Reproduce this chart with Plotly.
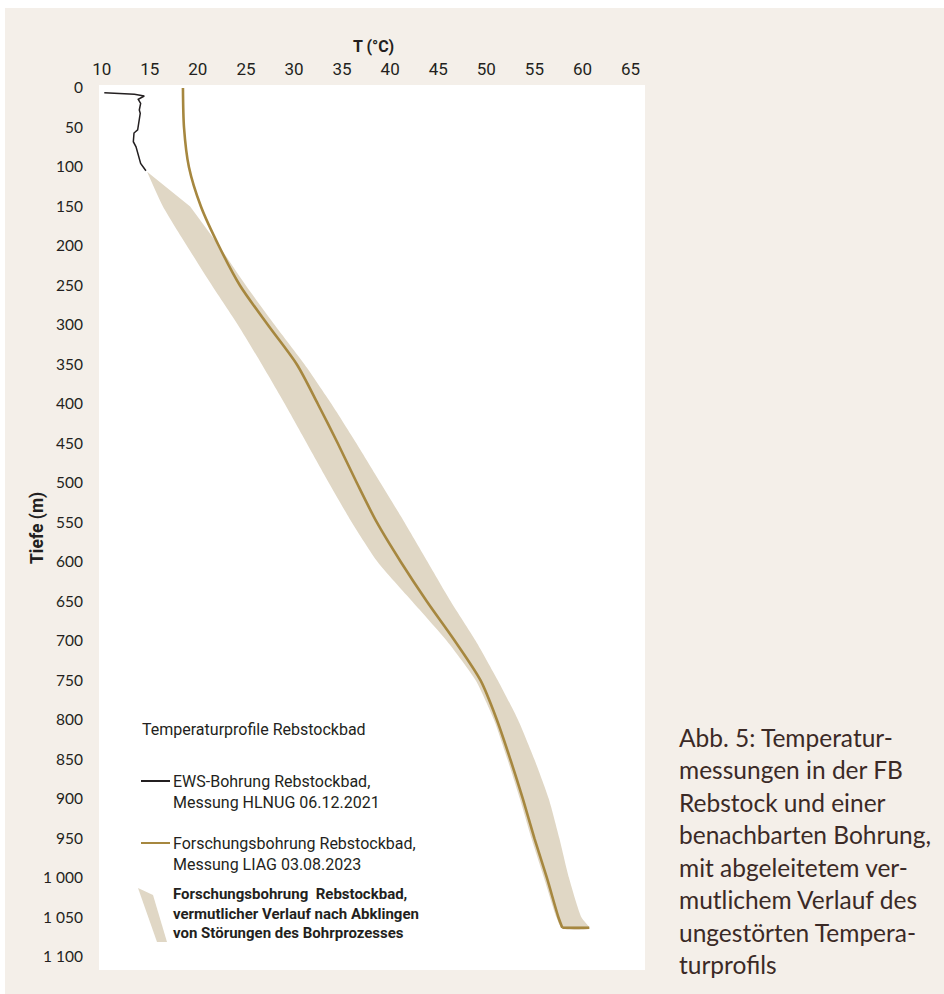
import plotly.graph_objects as go

# ---- data -------------------------------------------------------------
# EWS-Bohrung Rebstockbad, Messung HLNUG 06.12.2021
ews_temp = [10.27, 11.9, 13.4, 14.43, 13.80, 14.05, 13.91, 14.01, 13.88, 13.74,
            13.36, 13.29, 13.57, 13.80, 14.05, 14.60]
ews_depth = [5.9, 6.7, 8.0, 10.1, 14.3, 19.4, 27.9, 32.0, 40.5, 53.0,
             57.0, 68.0, 74.5, 85.0, 95.5, 104.8]

# Forschungsbohrung Rebstockbad, Messung LIAG 03.08.2023
fb_temp = [18.45, 18.56, 19.07, 20.32, 22.19, 24.38, 27.29, 30.30, 32.48, 34.56,
           36.54, 38.62, 41.11, 43.82, 46.73, 49.4, 51.1, 52.5, 53.8, 55.0,
           56.3, 57.5, 57.9, 60.7]
fb_depth = [0, 50, 100, 150, 200, 250, 300, 350, 400, 450,
            500, 550, 600, 650, 700, 750, 800, 850, 900, 950,
            1000, 1050, 1063, 1063]

# estimated undisturbed profile (band): left edge top->bottom, right edge bottom->top
band_left_temp = [14.72, 16.37, 18.87, 21.47, 24.17, 26.66, 29.05, 31.34, 33.63,
                  36.02, 38.7, 42.3, 45.9, 48.9, 50.8, 52.2, 53.5, 54.7, 56.0,
                  57.3, 57.9]
band_left_depth = [106, 150, 200, 250, 300, 350, 400, 450, 500,
                   550, 600, 650, 700, 750, 800, 850, 900, 950, 1000,
                   1050, 1064]
band_right_temp = [60.76, 59.9, 58.6, 57.6, 56.5, 55.0, 53.3, 51.2, 48.9, 46.3,
                   43.9, 41.5, 39.0, 36.5, 33.9, 31.1, 28.0, 25.0, 22.2, 19.2]
band_right_depth = [1064, 1050, 1000, 950, 900, 850, 800, 750, 700, 650,
                    600, 550, 500, 450, 400, 350, 300, 250, 200, 150]

x_ticks = list(range(10, 70, 5))
y_ticks = list(range(0, 1150, 50))
y_ticktext = [f"{v:,}".replace(",", " ") for v in y_ticks]

caption_lines = ["Abb. 5: Temperatur-", "messungen in der FB", "Rebstock und einer",
                 "benachbarten Bohrung,", "mit abgeleitetem ver-", "mutlichem Verlauf des",
                 "ungestörten Tempera-", "turprofils"]

# ---- style --------------------------------------------------------------
BG = "#F4EFE9"
GOLD = "#A6873F"
BAND = "#E0D7C5"
INK = "#231F20"
CAPTION_INK = "#3B2A26"
COND = "Roboto, sans-serif"
ROUND = "Lato, Noto Sans, sans-serif"

W_FIG, H_FIG = 944, 994
L, T, PW, PH = 99, 85, 546, 885


def px(x):
    return (x - L) / PW


def py(y):
    return (T + PH - y) / PH


fig = go.Figure()

fig.add_trace(go.Scatter(
    x=band_left_temp + band_right_temp,
    y=band_left_depth + band_right_depth,
    fill="toself", fillcolor=BAND, mode="lines",
    line=dict(width=0, shape="spline", smoothing=0.6),
    hoverinfo="skip", showlegend=False))

fig.add_trace(go.Scatter(
    x=ews_temp, y=ews_depth, mode="lines",
    line=dict(color=INK, width=1.5), showlegend=False))

# smooth profile down to the bottom of the hole, then the straight closing segment
fig.add_trace(go.Scatter(
    x=fb_temp[:-1], y=fb_depth[:-1], mode="lines",
    line=dict(color=GOLD, width=2.6, shape="spline", smoothing=0.8), showlegend=False))
fig.add_trace(go.Scatter(
    x=fb_temp[-2:], y=fb_depth[-2:], mode="lines",
    line=dict(color=GOLD, width=2.6), showlegend=False))

shapes = [
    # white page edge above and left of the beige panel
    dict(type="rect", xref="paper", yref="paper", x0=px(0), x1=px(W_FIG), y0=py(8), y1=py(0),
         fillcolor="white", line=dict(width=0), layer="below"),
    dict(type="rect", xref="paper", yref="paper", x0=px(0), x1=px(5), y0=py(H_FIG), y1=py(0),
         fillcolor="white", line=dict(width=0), layer="below"),
    # legend keys
    dict(type="line", xref="paper", yref="paper", x0=px(141), x1=px(170), y0=py(781), y1=py(781),
         line=dict(color=INK, width=2)),
    dict(type="line", xref="paper", yref="paper", x0=px(141), x1=px(170), y0=py(843), y1=py(843),
         line=dict(color=GOLD, width=2)),
    dict(type="path", xref="paper", yref="paper",
         path=(f"M {px(138)} {py(888)} L {px(153)} {py(895)} L {px(167)} {py(942)} "
               f"L {px(157)} {py(942)} Z"),
         fillcolor=BAND, line=dict(width=0)),
]

annotations = []


def text_at(txt, x, y, size, font, color=INK, anchor="left", angle=0, valign="middle"):
    annotations.append(dict(
        text=txt, xref="paper", yref="paper",
        x=px(x), y=py(y), xanchor=anchor, yanchor=valign, showarrow=False, align="left",
        textangle=angle, font=dict(family=font, size=size, color=color)))


# axis titles
text_at("<b>T (°C)</b>", 373, 46, 16, COND, anchor="center")
text_at("<b>Tiefe (m)</b>", 37, 528, 17.5, COND, anchor="center", angle=-90)

# legend
text_at("Temperaturprofile Rebstockbad", 140, 729, 16, COND)
text_at("EWS-Bohrung Rebstockbad,<br>Messung HLNUG 06.12.2021", 171, 791.5, 16, COND)
text_at("Forschungsbohrung Rebstockbad,<br>Messung LIAG 03.08.2023", 171, 853.5, 16, COND)
text_at("<b>Forschungsbohrung\u00a0 Rebstockbad,<br>vermutlicher Verlauf nach Abklingen"
        "<br>von Störungen des Bohrprozesses</b>", 171, 913, 15, COND)

# caption
for i, line in enumerate(caption_lines):
    text_at(line, 677, 737 + i * 32.5, 24.5, ROUND, color=CAPTION_INK)

fig.update_layout(
    width=W_FIG, height=H_FIG,
    margin=dict(l=L, r=W_FIG - L - PW, t=T, b=H_FIG - T - PH, pad=0),
    paper_bgcolor=BG, plot_bgcolor="white",
    shapes=shapes, annotations=annotations,
    showlegend=False,
)

fig.update_xaxes(
    side="top", range=[9.72, 66.5], tickvals=x_ticks,
    ticks="outside", ticklen=2, tickcolor="rgba(0,0,0,0)",
    tickfont=dict(family=COND, size=17, color=INK),
    showgrid=False, zeroline=False, showline=False,
)
fig.update_yaxes(
    range=[1116.5, -3.8], tickvals=y_ticks, ticktext=y_ticktext,
    ticks="outside", ticklen=12, tickcolor="rgba(0,0,0,0)",
    tickfont=dict(family=ROUND, size=15.5, color=INK),
    showgrid=False, zeroline=False, showline=False,
)

fig.write_html("out.html")
